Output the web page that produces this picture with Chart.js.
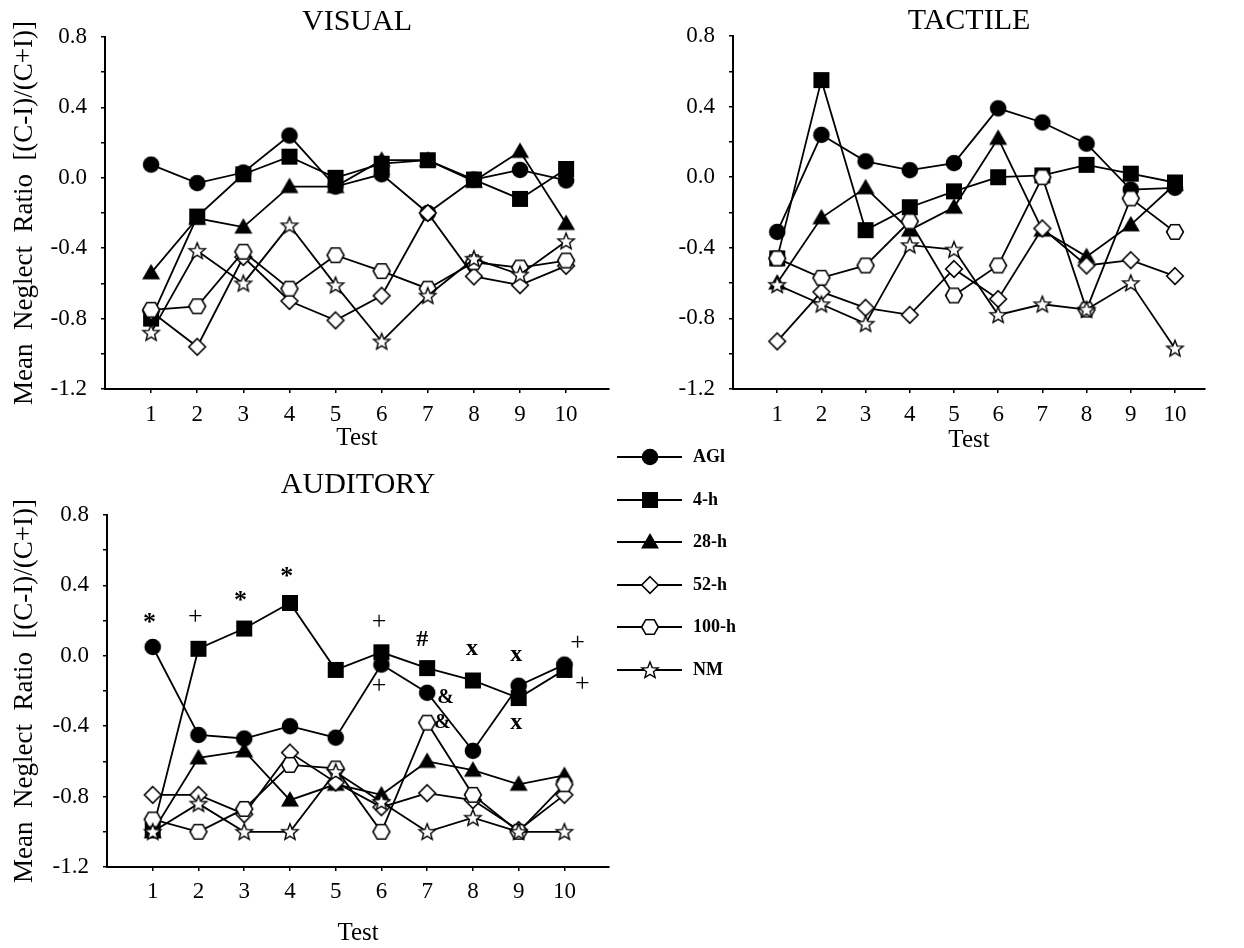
<!DOCTYPE html>
<html><head><meta charset="utf-8">
<script src="https://cdn.jsdelivr.net/npm/chart.js@4.4.1/dist/chart.umd.min.js"></script>
<style>
body{margin:0;background:#fff;width:1244px;height:948px;overflow:hidden;position:relative;font-family:"Liberation Serif",serif}
canvas{position:absolute}
.lgt{position:absolute;font:bold 18px "Liberation Serif",serif;color:#000;line-height:22px;white-space:nowrap}
</style></head><body>
<canvas id="cv" width="620" height="460" style="left:0;top:0"></canvas>
<canvas id="ct" width="620" height="460" style="left:620px;top:0"></canvas>
<canvas id="ca" width="620" height="478" style="left:0;top:470px"></canvas>
<div id="legend"></div>
<script>
// ---------- data ----------
const tests = [1,2,3,4,5,6,7,8,9,10];
const seriesNames = ['AGl','4-h','28-h','52-h','100-h','NM'];
const yTickValues = [-1.2,-1.0,-0.8,-0.6,-0.4,-0.2,0,0.2,0.4,0.6,0.8];
const yTickLabels = ['-1.2','','-0.8','','-0.4','','0.0','','0.4','','0.8'];

// VISUAL
const visAGl  = [0.075,-0.03,0.03,0.24,-0.05,0.02,-0.20,-0.01,0.045,-0.015];
const vis4h   = [-0.80,-0.22,0.02,0.12,0.00,0.08,0.10,-0.01,-0.12,0.05];
const vis28h  = [-0.54,-0.23,-0.28,-0.05,-0.05,0.10,0.10,-0.02,0.15,-0.26];
const vis52h  = [-0.76,-0.96,-0.45,-0.70,-0.81,-0.67,-0.20,-0.56,-0.61,-0.50];
const vis100h = [-0.75,-0.73,-0.42,-0.63,-0.44,-0.53,-0.63,-0.48,-0.51,-0.47];
const visNM   = [-0.88,-0.415,-0.60,-0.27,-0.61,-0.93,-0.67,-0.46,-0.55,-0.36];

// TACTILE
const tacAGl  = [-0.31,0.24,0.09,0.04,0.08,0.39,0.31,0.19,-0.07,-0.06];
const tac4h   = [-0.46,0.55,-0.30,-0.17,-0.08,0.00,0.01,0.07,0.02,-0.03];
const tac28h  = [-0.60,-0.23,-0.06,-0.30,-0.17,0.22,-0.30,-0.45,-0.27,-0.04];
const tac52h  = [-0.93,-0.65,-0.74,-0.78,-0.52,-0.69,-0.29,-0.50,-0.47,-0.56];
const tac100h = [-0.46,-0.57,-0.50,-0.25,-0.67,-0.50,0.00,-0.75,-0.12,-0.31];
const tacNM   = [-0.61,-0.72,-0.83,-0.385,-0.41,-0.78,-0.72,-0.75,-0.60,-0.97];

// AUDITORY
const audAGl  = [0.05,-0.45,-0.47,-0.40,-0.465,-0.05,-0.21,-0.54,-0.17,-0.05];
const aud4h   = [-0.99,0.04,0.155,0.30,-0.08,0.02,-0.07,-0.14,-0.24,-0.08];
const aud28h  = [-1.0,-0.58,-0.54,-0.82,-0.73,-0.79,-0.60,-0.65,-0.73,-0.68];
const aud52h  = [-0.79,-0.79,-0.90,-0.55,-0.72,-0.86,-0.78,-0.82,-0.99,-0.79];
const aud100h = [-0.93,-1.0,-0.87,-0.62,-0.64,-1.0,-0.38,-0.79,-1.0,-0.73];
const audNM   = [-1.0,-0.84,-1.0,-1.0,-0.66,-0.83,-1.0,-0.92,-1.0,-1.0];

// AUDITORY significance marks
const markTexts  = ['*','+','*','*','+','+','#','&','&','x','x','x','+','+'];
const markTests  = [0.93,1.93,2.92,3.93,5.95,5.95,6.89,7.40,7.33,7.98,8.95,8.95,10.29,10.39];
const markValues = [0.22,0.22,0.345,0.48,0.19,-0.17,0.09,-0.24,-0.38,0.04,0.005,-0.38,0.07,-0.16];

// ---------- style ----------
const SERIF = '"Liberation Serif", "DejaVu Serif", serif';

function makeMarker(shape){
  const c = document.createElement('canvas'); c.width = 24; c.height = 24;
  const g = c.getContext('2d');
  g.translate(12,12);
  g.lineWidth = 1.6; g.strokeStyle = '#000'; g.fillStyle = '#000'; g.lineJoin = 'miter';
  g.beginPath();
  if (shape === 'circle'){ g.arc(0,0,8.3,0,Math.PI*2); g.fill(); }
  else if (shape === 'square'){ g.rect(-8,-8,16,16); g.fill(); }
  else if (shape === 'triangle'){ g.moveTo(0,-9); g.lineTo(9,6.5); g.lineTo(-9,6.5); g.closePath(); g.fill(); }
  else if (shape === 'diamond'){ g.moveTo(0,-8.3); g.lineTo(8.3,0); g.lineTo(0,8.3); g.lineTo(-8.3,0); g.closePath(); g.fillStyle='#fff'; g.fill(); g.stroke(); }
  else if (shape === 'hexagon'){ g.moveTo(-8.4,0); g.lineTo(-4.2,-7.3); g.lineTo(4.2,-7.3); g.lineTo(8.4,0); g.lineTo(4.2,7.3); g.lineTo(-4.2,7.3); g.closePath(); g.fillStyle='#fff'; g.fill(); g.stroke(); }
  else if (shape === 'star'){
    for (let k=0;k<10;k++){ const r = k%2 ? 3.7 : 8.6; const a = -Math.PI/2 + k*Math.PI/5; const px=r*Math.cos(a), py=r*Math.sin(a)+0.6; k?g.lineTo(px,py):g.moveTo(px,py); }
    g.closePath(); g.fillStyle='#fff'; g.fill(); g.lineWidth=1.4; g.stroke();
  }
  return c;
}
const markers = ['circle','square','triangle','diamond','hexagon','star'].map(makeMarker);

const marksPlugin = {
  id: 'marks',
  afterDatasetsDraw(chart, args, opts){
    if (!opts || !opts.texts) return;
    const {ctx} = chart; const x = chart.scales.x, y = chart.scales.y;
    ctx.save(); ctx.fillStyle = '#000'; ctx.textAlign = 'center'; ctx.textBaseline = 'middle';
    opts.texts.forEach((t,i)=>{
      let size = 24, weight = 'bold', dy = 0;
      if (t === '+') { weight = 'normal'; size = 26; }
      if (t === '*') { size = 26; dy = 6; }
      if (t === '&') { size = 20; }
      ctx.font = weight + ' ' + size + 'px ' + SERIF;
      ctx.fillText(t, x.getPixelForValue(opts.xs[i]), y.getPixelForValue(opts.ys[i]) + dy);
    });
    ctx.restore();
  }
};

function panel(id, title, series, cfg){
  const datasets = series.map((vals,i)=>({
    label: seriesNames[i],
    data: tests.map((t,k)=>({x:t, y:vals[k]})),
    borderColor:'#000', backgroundColor:'#000', borderWidth:1.8,
    pointStyle: markers[i], pointRadius: 9, pointHoverRadius: 9,
    order: series.length - i, fill:false, tension:0
  }));
  return new Chart(document.getElementById(id), {
    type:'line',
    data:{datasets},
    options:{
      responsive:false, animation:false, events:[],
      layout:{padding:{left:0,right:cfg.padRight,top:0,bottom:0}},
      plugins:{
        legend:{display:false}, tooltip:{enabled:false},
        title:{display:true, text:title, fullSize:false, color:'#000',
               font:{family:SERIF,size:30,weight:'normal',lineHeight:1},
               padding:{top:cfg.titleTop,bottom:cfg.titleBottom}},
        marks: cfg.marks || {}
      },
      scales:{
        x:{type:'linear', min:0, max:cfg.xMax,
           afterBuildTicks: s => { s.ticks = tests.map(v=>({value:v})); },
           afterFit: s => { s.height = cfg.xHeight; },
           ticks:{color:'#000', font:{family:SERIF,size:23}, padding:cfg.xTickPad, maxRotation:0, autoSkip:false, callback:v=>String(v)},
           grid:{drawOnChartArea:false, drawTicks:true, tickLength:4, color:'#000', lineWidth:1.5},
           border:{display:true, color:'#000', width:2},
           title:{display:true, text:'Test', color:'#000', font:{family:SERIF,size:25}, padding:{top:0,bottom:cfg.xTitlePad}}
        },
        y:{type:'linear', min:-1.2, max:0.8,
           afterBuildTicks: s => { s.ticks = yTickValues.map(v=>({value:v})); },
           afterFit: s => { s.width = cfg.yWidth; },
           ticks:{color:'#000', font:{family:SERIF,size:23}, padding:14, autoSkip:false, callback:(v,i)=>yTickLabels[i]},
           grid:{drawOnChartArea:false, drawTicks:true, tickLength:4, color:'#000', lineWidth:1.5},
           border:{display:true, color:'#000', width:2},
           title:{display:cfg.yTitle, text:'Mean  Neglect  Ratio  [(C-I)/(C+I)]', color:'#000', font:{family:SERIF,size:27}, padding:{top:9,bottom:0}}
        }
      }
    },
    plugins:[marksPlugin]
  });
}

panel('cv','VISUAL',[visAGl,vis4h,vis28h,vis52h,vis100h,visNM],
  {padRight:11, xMax:10.93, yWidth:105, xHeight:71, titleTop:7, titleBottom:0, xTickPad:8, xTitlePad:7, yTitle:true});
panel('ct','TACTILE',[tacAGl,tac4h,tac28h,tac52h,tac100h,tacNM],
  {padRight:35, xMax:10.68, yWidth:113, xHeight:71, titleTop:6, titleBottom:0, xTickPad:8, xTitlePad:5, yTitle:false});
panel('ca','AUDITORY',[audAGl,aud4h,aud28h,aud52h,aud100h,audNM],
  {padRight:7, xMax:10.98, yWidth:107, xHeight:81, titleTop:0, titleBottom:15, xTickPad:7, xTitlePad:0, yTitle:true,
   marks:{texts:markTexts, xs:markTests, ys:markValues}});

// ---------- legend ----------
const lg = document.getElementById('legend');
const legendTop = 457, legendStep = 42.6;
seriesNames.forEach((name,i)=>{
  const cy = legendTop + i*legendStep;
  const c = document.createElement('canvas'); c.width = 70; c.height = 24;
  c.style.left = '615px'; c.style.top = (cy-12)+'px';
  const g = c.getContext('2d');
  g.strokeStyle = '#000'; g.lineWidth = 1.8;
  g.beginPath(); g.moveTo(2,12); g.lineTo(67,12); g.stroke();
  g.drawImage(markers[i], 35-12, 0);
  lg.appendChild(c);
  const t = document.createElement('div'); t.className = 'lgt'; t.textContent = name;
  t.style.left = '693px'; t.style.top = (cy-12)+'px';
  lg.appendChild(t);
});
</script>
</body></html>
